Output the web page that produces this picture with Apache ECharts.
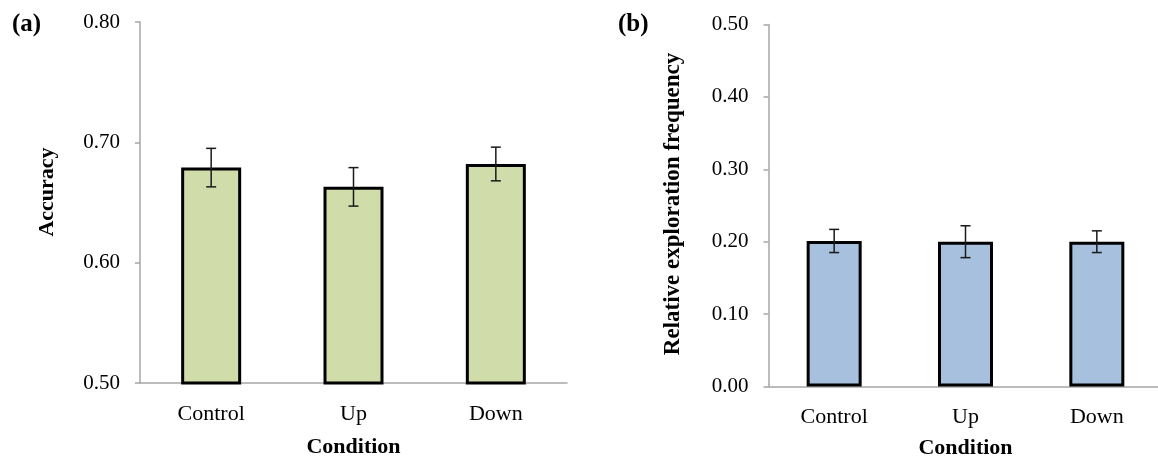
<!DOCTYPE html>
<html>
<head>
<meta charset="utf-8">
<script src="https://cdn.jsdelivr.net/npm/echarts@6/dist/echarts.min.js"></script>
<style>
    html, body { margin: 0; padding: 0; background: #fff; }
    #chart { width: 1158px; height: 456px; }
</style>
</head>
<body>
<div id="chart"></div>
<script>
// 数据
var conditions = ['Control', 'Up', 'Down'];
var accuracyMean = [0.679, 0.663, 0.682];
var accuracyErr = [0.016, 0.016, 0.014];
var exploreMean = [0.201, 0.200, 0.200];
var exploreErr = [0.016, 0.022, 0.015];
var accuracyTicks = [0.50, 0.60, 0.70, 0.80];
var exploreTicks = [0.00, 0.10, 0.20, 0.30, 0.40, 0.50];

(function(){
    var font = '"Liberation Serif", "Times New Roman", serif';
    var axisGray = '#a6a6a6';

    // 误差线
    function errorItem(params, api){
        var idx = api.value(0);
        var m = api.value(1);
        var e = api.value(2);
        var top = api.coord([idx, m + e]);
        var bot = api.coord([idx, m - e]);
        var hw = 5;
        var style = { stroke: '#1a1a1a', lineWidth: 1.5 };
        return {
            type: 'group',
            children: [
                { type: 'line', shape: { x1: top[0], y1: top[1], x2: bot[0], y2: bot[1] }, style: style },
                { type: 'line', shape: { x1: top[0] - hw, y1: top[1], x2: top[0] + hw, y2: top[1] }, style: style },
                { type: 'line', shape: { x1: bot[0] - hw, y1: bot[1], x2: bot[0] + hw, y2: bot[1] }, style: style }
            ]
        };
    }

    function errData(mean, err){
        return mean.map(function(m, i){ return [i, m, err[i]]; });
    }

    function xAxis(gridIndex){
        return {
            type: 'category',
            gridIndex: gridIndex,
            data: conditions,
            name: 'Condition',
            nameLocation: 'middle',
            nameGap: gridIndex ? 51 : 53,
            nameTextStyle: { fontFamily: font, fontWeight: 'bold', fontSize: 22, color: '#000' },
            axisLine: { lineStyle: { color: axisGray, width: 1.5 } },
            axisTick: { length: 5, lineStyle: { color: axisGray, width: 1.5 } },
            axisLabel: { margin: 20, fontFamily: font, fontSize: 22, color: '#000' }
        };
    }

    function yAxis(gridIndex, ticks, name, size, pad){
        return {
            type: 'value',
            gridIndex: gridIndex,
            min: ticks[0],
            max: ticks[ticks.length - 1],
            interval: 0.1,
            name: name,
            nameLocation: 'middle',
            nameGap: gridIndex ? 84 : 82,
            nameRotate: 90,
            nameTextStyle: { fontFamily: font, fontWeight: 'bold', fontSize: size, color: '#000', padding: pad },
            axisLine: { show: true, lineStyle: { color: axisGray, width: 1.5 } },
            axisTick: { show: true, length: 5, lineStyle: { color: axisGray, width: 1.5 } },
            splitLine: { show: false },
            axisLabel: {
                margin: gridIndex ? 20 : 20,
                fontFamily: font, fontSize: 21, color: '#000',
                formatter: function(v){ return v.toFixed(2); }
            }
        };
    }

    var myChart = echarts.init(document.getElementById('chart'));
    var option = {
        animation: false,
        backgroundColor: '#fff',
        title: [
            { text: '(a)', left: 12, top: 12, padding: 0, textStyle: { fontFamily: font, fontWeight: 'bold', fontSize: 25, color: '#000' } },
            { text: '(b)', left: 618, top: 12, padding: 0, textStyle: { fontFamily: font, fontWeight: 'bold', fontSize: 25, color: '#000' } }
        ],
        grid: [
            { left: 140, top: 22, width: 427, height: 361, outerBoundsMode: 'none' },
            { left: 768.5, top: 24.5, width: 394, height: 362, outerBoundsMode: 'none' }
        ],
        xAxis: [xAxis(0), xAxis(1)],
        yAxis: [
            yAxis(0, accuracyTicks, 'Accuracy', 22, [0, 0, 0, 21]),
            yAxis(1, exploreTicks, 'Relative exploration frequency', 23, [0, 0, 0, 3])
        ],
        series: [
            {
                type: 'bar', xAxisIndex: 0, yAxisIndex: 0,
                data: accuracyMean, barWidth: 60,
                itemStyle: { color: '#d0ddab', borderColor: '#000', borderWidth: 3 }
            },
            {
                type: 'custom', xAxisIndex: 0, yAxisIndex: 0, z: 5,
                data: errData(accuracyMean, accuracyErr), renderItem: errorItem
            },
            {
                type: 'bar', xAxisIndex: 1, yAxisIndex: 1,
                data: exploreMean, barWidth: 55,
                itemStyle: { color: '#a7c0de', borderColor: '#000', borderWidth: 3 }
            },
            {
                type: 'custom', xAxisIndex: 1, yAxisIndex: 1, z: 5,
                data: errData(exploreMean, exploreErr), renderItem: errorItem
            }
        ]
    };
    myChart.setOption(option);
})();
</script>
</body>
</html>
